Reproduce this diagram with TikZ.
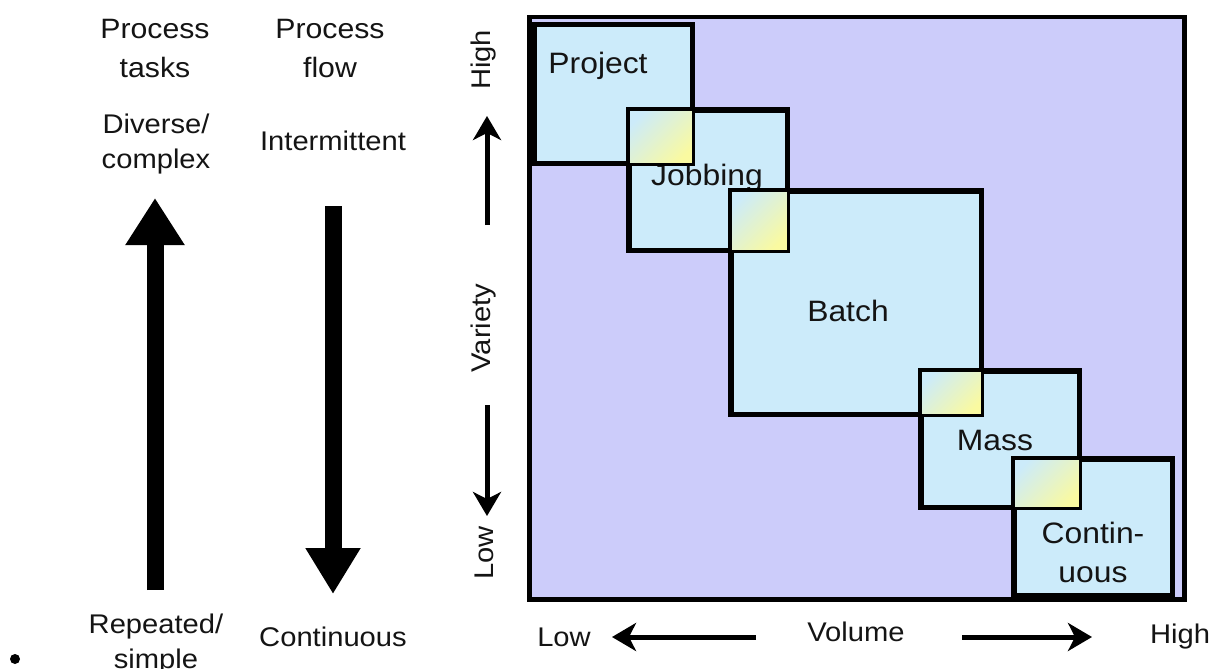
\documentclass[tikz,border=0pt]{standalone}
\usepackage{fontspec}
\setmainfont[FakeStretch=1.08]{Liberation Sans}
\usetikzlibrary{arrows.meta}
\definecolor{panel}{RGB}{204,204,250}
\definecolor{boxblue}{RGB}{204,235,250}
\definecolor{ylw}{RGB}{250,250,160}
\definecolor{ink}{RGB}{20,20,20}
\begin{document}
\begin{tikzpicture}[x=1pt,y=-1pt,
  lbl/.style={font=\fontsize{27}{35}\selectfont, text=ink, inner sep=0pt, align=center},
  boxlbl/.style={font=\fontsize{29.5}{39}\selectfont, text=ink, inner sep=0pt, align=center},
  biglbl/.style={font=\fontsize{28}{39}\selectfont, text=ink, inner sep=0pt, align=center},
  stagebox/.style={draw=black, line width=3.5pt, fill=boxblue, anchor=north west, inner sep=0pt},
  boxline/.style={draw=black, line width=3.5pt},
  overlap/.style={top color=boxblue, bottom color=ylw, shading angle=45},
  bigarrow/.style={draw=black, line width=17pt, -{Triangle[length=47pt,width=56pt]}},
  axisarrow/.style={draw=black, line width=5pt, -{Stealth[length=24pt,width=28pt,inset=7pt]}}]
\useasboundingbox (0,0) rectangle (1218,669);

% outer panel
\node[draw=black, line width=4.5pt, fill=panel, anchor=north west, inner sep=0pt,
  minimum width=655pt, minimum height=582pt] (panel) at (527,15) {};

% stage boxes
\node[stagebox, minimum width=157pt, minimum height=137pt] (project) at (533,24) {};
\node[boxlbl] (projectlbl) at (598,66) {Project};
\node[stagebox, minimum width=157pt, minimum height=139pt] (jobbing) at (628,109) {};
\node[boxlbl] (jobbinglbl) at (707,178) {Jobbing};
\node[stagebox, minimum width=249pt, minimum height=222pt] (batch) at (730,190) {};
\node[boxlbl] (batchlbl) at (848,311) {Batch};
\node[stagebox, minimum width=157pt, minimum height=135pt] (mass) at (920,370) {};
\node[boxlbl] (masslbl) at (995,440) {Mass};
\node[stagebox, minimum width=157pt, minimum height=135pt] (cont) at (1013,458) {};
\node[boxlbl] (contlbl) at (1093,552) {Contin-\\uous};

% overlaps
\shade[overlap] (jobbing.north west) rectangle (project.south east);
\shade[overlap] (batch.north west) rectangle (jobbing.south east);
\shade[overlap] (mass.north west) rectangle (batch.south east);
\shade[overlap] (cont.north west) rectangle (mass.south east);

% borders on top
\foreach \b in {project,jobbing,batch,mass,cont}
  \draw[boxline] (\b.north west) rectangle (\b.south east);

% left columns
\node[biglbl] (tasks) at (155,49) {Process\\tasks};
\node[biglbl] (flow) at (330,49) {Process\\flow};
\node[lbl] (diverse) at (156,144) {Diverse/\\complex};
\node[lbl] (intermittent) at (333,141) {Intermittent};
\node[lbl] (repeated) at (156,644) {Repeated/\\simple};
\node[lbl] (continuous) at (333,637) {Continuous};

\coordinate (tasksbot) at (155,590);
\coordinate (taskstop) at (155,198);
\draw[bigarrow] (tasksbot) -- (taskstop);
\coordinate (flowtop) at (333,206);
\coordinate (flowbot) at (333,594);
\draw[bigarrow, -{Triangle[length=46pt,width=52pt]}] (flowtop) -- (flowbot);

% variety axis
\node[lbl, rotate=90] (vhigh) at (484,60) {High};
\node[lbl, rotate=90] (variety) at (484,328) {Variety};
\node[lbl, rotate=90] (vlow) at (484,553) {Low};
\coordinate (vupa) at (487,225);
\coordinate (vupb) at (487,116);
\draw[axisarrow] (vupa) -- (vupb);
\coordinate (vdna) at (487,405);
\coordinate (vdnb) at (487,516);
\draw[axisarrow] (vdna) -- (vdnb);

% volume axis
\node[lbl] (xlow) at (564,637) {Low};
\node[lbl] (volume) at (856,632) {Volume};
\node[lbl] (xhigh) at (1180,637) {High};
\coordinate (xla) at (756,637);
\coordinate (xlb) at (612,637);
\draw[axisarrow] (xla) -- (xlb);
\coordinate (xra) at (962,637);
\coordinate (xrb) at (1092,637);
\draw[axisarrow] (xra) -- (xrb);

% bullet
\node[circle, fill=black, inner sep=0pt, minimum size=10pt] (bullet) at (15,659) {};
\end{tikzpicture}
\end{document}
